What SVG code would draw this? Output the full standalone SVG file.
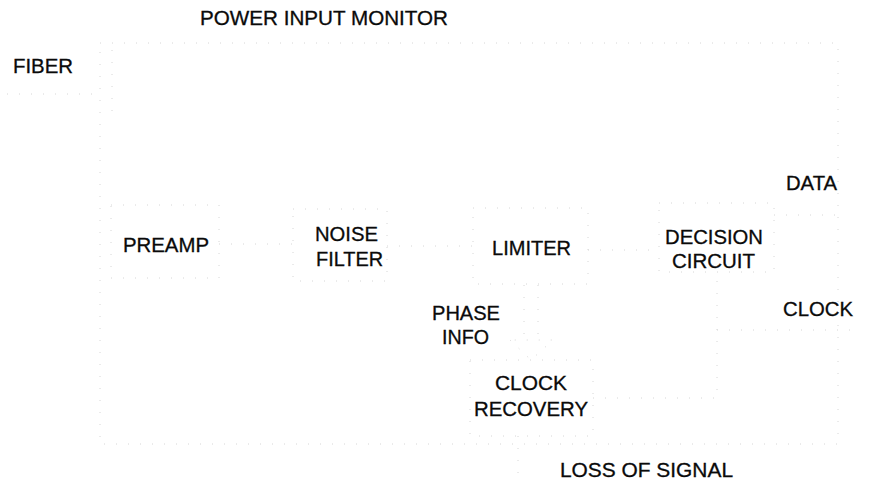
<svg xmlns="http://www.w3.org/2000/svg" width="869" height="483" viewBox="0 0 869 483">
<style>
text{font-family:"Liberation Sans",Arial,sans-serif;font-size:20px;fill:#0a0a0a;stroke:#0a0a0a;stroke-width:0.3px;}
.b{fill:none;stroke:#d6d6d6;stroke-width:1;stroke-dasharray:1 11;}
.c{fill:none;stroke:#d6d6d6;stroke-width:1;stroke-dasharray:1 11;}
</style>
<rect width="869" height="483" fill="#fff"/>
<g id="frame"><rect class="b" x="100" y="43" width="738" height="401"/></g>
<g id="fiber"><text x="13" y="73" textLength="60" lengthAdjust="spacingAndGlyphs">FIBER</text></g>
<g id="power-monitor"><text x="200" y="25" textLength="248" lengthAdjust="spacingAndGlyphs">POWER INPUT MONITOR</text></g>
<g id="photodetector"><line class="b" x1="112" y1="50" x2="112" y2="117"/></g>
<g id="preamp"><rect class="b" x="111" y="205" width="108" height="73"/><text x="123" y="252" textLength="86" lengthAdjust="spacingAndGlyphs">PREAMP</text></g>
<g id="noise-filter"><rect class="b" x="293" y="209" width="94" height="72"/><text x="315" y="241" textLength="63" lengthAdjust="spacingAndGlyphs">NOISE</text><text x="316" y="266" textLength="67" lengthAdjust="spacingAndGlyphs">FILTER</text></g>
<g id="limiter"><rect class="b" x="473" y="208" width="115" height="76"/><text x="492" y="255" textLength="79" lengthAdjust="spacingAndGlyphs">LIMITER</text></g>
<g id="decision"><rect class="b" x="659" y="203" width="115" height="69"/><text x="665" y="244" textLength="98" lengthAdjust="spacingAndGlyphs">DECISION</text><text x="672" y="268" textLength="83" lengthAdjust="spacingAndGlyphs">CIRCUIT</text></g>
<g id="clock-recovery"><rect class="b" x="470" y="360" width="123" height="76"/><text x="495" y="390" textLength="72" lengthAdjust="spacingAndGlyphs">CLOCK</text><text x="474" y="416" textLength="114" lengthAdjust="spacingAndGlyphs">RECOVERY</text></g>
<g id="labels">
<text x="786" y="190" textLength="51" lengthAdjust="spacingAndGlyphs">DATA</text>
<text x="783" y="316" textLength="70" lengthAdjust="spacingAndGlyphs">CLOCK</text>
<text x="432" y="320" textLength="68" lengthAdjust="spacingAndGlyphs">PHASE</text>
<text x="442" y="344" textLength="47" lengthAdjust="spacingAndGlyphs">INFO</text>
<text x="560" y="477" textLength="173" lengthAdjust="spacingAndGlyphs">LOSS OF SIGNAL</text>
</g>
<g id="connectors">
<path class="c" d="M7 94H100"/>
<path class="c" d="M219 244H293"/>
<path class="c" d="M387 246H473"/>
<path class="c" d="M588 250H659"/>
<path class="c" d="M774 215H838"/>
<path class="c" d="M524 285V340M538 285V340M510 340L531 360L553 340Z"/>
<path class="c" d="M593 398H717V272"/>
<path class="c" d="M717 330H860"/>
<path class="c" d="M518 436V483"/>
</g>
</svg>
